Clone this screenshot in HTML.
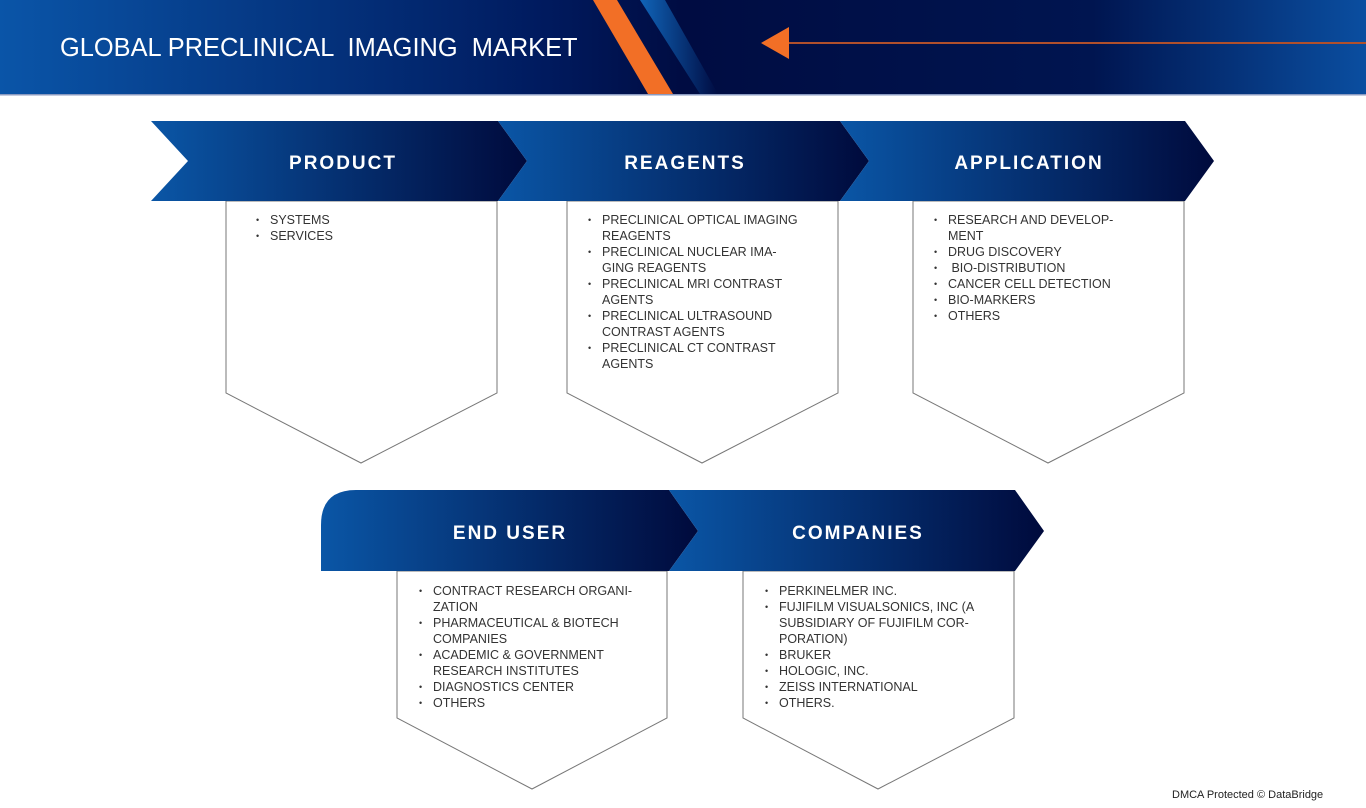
<!DOCTYPE html>
<html><head><meta charset="utf-8"><style>
body{margin:0;width:1366px;height:808px;position:relative;background:#fff;overflow:hidden;font-family:"Liberation Sans",sans-serif}
svg{position:absolute;left:0;top:0}
.t{position:absolute;color:#fff;font-weight:bold;font-size:19px;letter-spacing:2px;text-align:center}
.l{position:absolute;font-size:12.5px;line-height:16px;color:#333;margin:0;padding:0;list-style:none}
.l li{position:relative;padding-left:14px}
.l li:before{content:"•";position:absolute;left:0;font-size:9px}
</style></head><body>
<svg width="1366" height="808">
<defs>
<linearGradient id="h" x1="0" x2="1"><stop offset="0" stop-color="#0a55a8"/><stop offset="0.4" stop-color="#001a5e"/><stop offset="0.5" stop-color="#000c42"/><stop offset="0.8" stop-color="#001550"/><stop offset="1" stop-color="#0a4ea0"/></linearGradient>
<linearGradient id="c" x1="0" x2="1"><stop offset="0" stop-color="#0a56a6"/><stop offset="1" stop-color="#000a3c"/></linearGradient>
<linearGradient id="b" x1="0" x2="1"><stop offset="0" stop-color="#1064b8"/><stop offset="1" stop-color="#000c42"/></linearGradient>
</defs>
<rect x="0" y="0" width="1366" height="94" fill="url(#h)"/>
<rect x="0" y="94" width="1366" height="1.5" fill="#8a9ac0"/>
<polygon points="640,0 665,0 718,94 700,94" fill="url(#b)"/>
<polygon points="593,0 617,0 673,94 648,94" fill="#f26f26"/>
<polygon points="761,43 789,27 789,59" fill="#f26f26"/>
<rect x="789" y="42" width="577" height="2" fill="#b0502c"/>
<g fill="#fff" stroke="#777" stroke-width="1">
<polygon points="226,201 497,201 497,393 361,463 226,393"/>
<polygon points="567,201 838,201 838,393 702,463 567,393"/>
<polygon points="913,201 1184,201 1184,393 1048,463 913,393"/>
<polygon points="397,571 667,571 667,718 532,789 397,718"/>
<polygon points="743,571 1014,571 1014,718 878,789 743,718"/>
</g>
<polygon points="151,121 498,121 527,161 498,201 151,201 188,161" fill="url(#c)"/>
<polygon points="498,121 840,121 869,161 840,201 498,201 527,161" fill="url(#c)"/>
<polygon points="840,121 1185,121 1214,161 1185,201 840,201 869,161" fill="url(#c)"/>
<path d="M356,490 L669,490 L698,531 L669,571 L321,571 L321,525 Q321,490 356,490Z" fill="url(#c)"/>
<polygon points="669,490 1015,490 1044,531 1015,571 669,571 698,531" fill="url(#c)"/>
</svg>
<div style="position:absolute;left:60px;top:32px;color:#fff;font-size:26px;white-space:pre;transform:scaleX(0.977);transform-origin:0 0">GLOBAL PRECLINICAL  IMAGING  MARKET</div>
<div class="t" style="left:188px;width:310px;top:153px">PRODUCT</div>
<div class="t" style="left:527px;width:316px;top:153px">REAGENTS</div>
<div class="t" style="left:869px;width:320px;top:153px">APPLICATION</div>
<div class="t" style="left:330px;width:360px;top:523px">END USER</div>
<div class="t" style="left:698px;width:320px;top:523px">COMPANIES</div>
<ul class="l" style="left:256px;top:212px;width:230px"><li>SYSTEMS</li><li>SERVICES</li></ul>
<ul class="l" style="left:588px;top:212px;width:235px"><li>PRECLINICAL OPTICAL IMAGING<br>REAGENTS</li><li>PRECLINICAL NUCLEAR IMA-<br>GING REAGENTS</li><li>PRECLINICAL MRI CONTRAST<br>AGENTS</li><li>PRECLINICAL ULTRASOUND<br>CONTRAST AGENTS</li><li>PRECLINICAL CT CONTRAST<br>AGENTS</li></ul>
<ul class="l" style="left:934px;top:212px;width:240px"><li>RESEARCH AND DEVELOP-<br>MENT</li><li>DRUG DISCOVERY</li><li>&nbsp;BIO-DISTRIBUTION</li><li>CANCER CELL DETECTION</li><li>BIO-MARKERS</li><li>OTHERS</li></ul>
<ul class="l" style="left:419px;top:583px;width:240px"><li>CONTRACT RESEARCH ORGANI-<br>ZATION</li><li>PHARMACEUTICAL &amp; BIOTECH<br>COMPANIES</li><li>ACADEMIC &amp; GOVERNMENT<br>RESEARCH INSTITUTES</li><li>DIAGNOSTICS CENTER</li><li>OTHERS</li></ul>
<ul class="l" style="left:765px;top:583px;width:240px"><li>PERKINELMER INC.</li><li>FUJIFILM VISUALSONICS, INC (A<br>SUBSIDIARY OF FUJIFILM COR-<br>PORATION)</li><li>BRUKER</li><li>HOLOGIC, INC.</li><li>ZEISS INTERNATIONAL</li><li>OTHERS.</li></ul>
<div style="position:absolute;left:1172px;top:789px;font-size:11px;color:#222">DMCA Protected © DataBridge</div>
</body></html>
